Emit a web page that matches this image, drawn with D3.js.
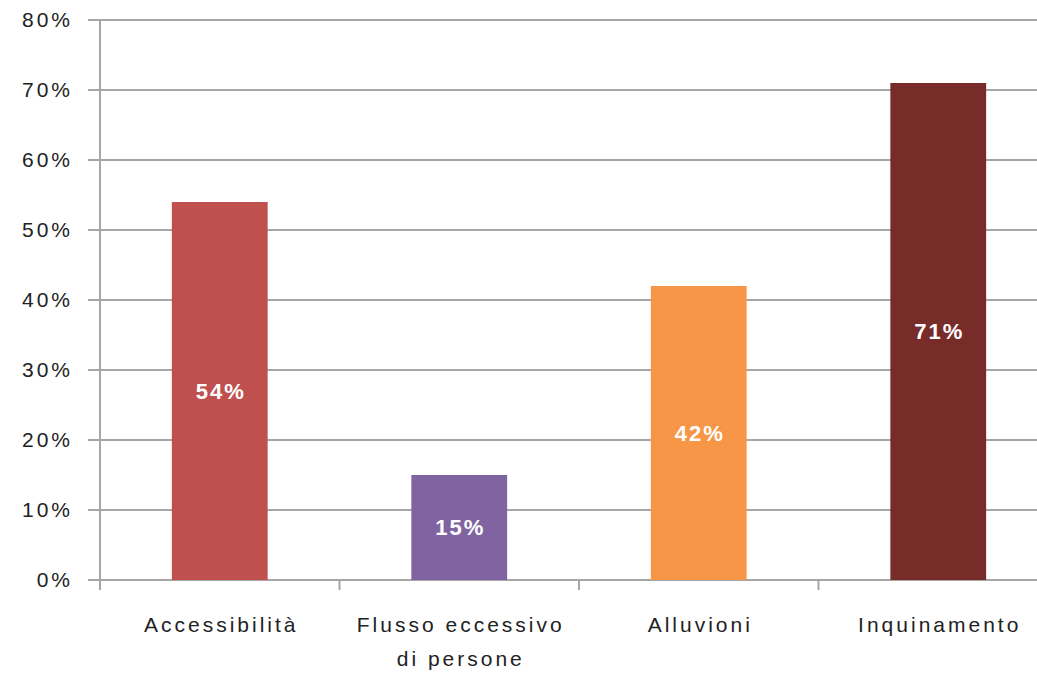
<!DOCTYPE html>
<html>
<head>
<meta charset="utf-8">
<script src="https://cdn.jsdelivr.net/npm/d3@7"></script>
<style>
  html, body { margin: 0; padding: 0; background: #fff; }
  svg { display: block; }
</style>
</head>
<body>
<svg id="chart" width="1037" height="673"></svg>
<script>
// Share of respondents citing each problem
const categories = ["Accessibilità", "Flusso eccessivo di persone", "Alluvioni", "Inquinamento"];
const labelLines = [["Accessibilità"], ["Flusso eccessivo", "di persone"], ["Alluvioni"], ["Inquinamento"]];
const values = [54, 15, 42, 71];
const colors = ["#C0504D", "#8064A2", "#F79646", "#772C2A"];
const yTicks = [0, 10, 20, 30, 40, 50, 60, 70, 80];

(function () {
  const svg = d3.select("#chart");
  const plotLeft = 100, plotTop = 20, plotBottom = 580;
  const bandStep = 239.5;
  const plotRight = plotLeft + bandStep * categories.length;

  const x = d3.scaleBand().domain(categories).range([plotLeft, plotRight])
    .paddingInner(0.6).paddingOuter(0.3);
  const y = d3.scaleLinear().domain([0, 80]).range([plotBottom, plotTop]);

  const gridColor = "#A6A6A6";
  const font = "'Liberation Sans', Arial, sans-serif";

  // horizontal gridlines with short left ticks
  svg.append("g").selectAll("line").data(yTicks).join("line")
    .attr("x1", plotLeft - 12).attr("x2", plotRight)
    .attr("y1", d => y(d)).attr("y2", d => y(d))
    .attr("stroke", gridColor).attr("stroke-width", 2);

  // y-axis tick labels
  svg.append("g").selectAll("text").data(yTicks).join("text")
    .attr("x", 73).attr("y", d => y(d))
    .attr("dy", "0.35em")
    .attr("text-anchor", "end")
    .attr("font-family", font).attr("font-size", 21)
    .attr("letter-spacing", 3)
    .attr("fill", "#222")
    .text(d => d + "%");

  // vertical axis line
  svg.append("line")
    .attr("x1", plotLeft).attr("x2", plotLeft)
    .attr("y1", plotTop).attr("y2", plotBottom + 10)
    .attr("stroke", gridColor).attr("stroke-width", 2);

  // category separator ticks below the baseline
  const sepTicks = d3.range(1, categories.length + 1).map(i => plotLeft + i * x.step());
  svg.append("g").selectAll("line").data(sepTicks).join("line")
    .attr("x1", d => d).attr("x2", d => d)
    .attr("y1", plotBottom).attr("y2", plotBottom + 10)
    .attr("stroke", gridColor).attr("stroke-width", 2);

  // bars
  svg.append("g").selectAll("rect").data(categories).join("rect")
    .attr("x", d => x(d))
    .attr("y", (d, i) => y(values[i]))
    .attr("width", x.bandwidth())
    .attr("height", (d, i) => plotBottom - y(values[i]))
    .attr("fill", (d, i) => colors[i]);

  // value labels centred in each bar
  svg.append("g").selectAll("text").data(categories).join("text")
    .attr("x", d => x(d) + x.bandwidth() / 2 + 1)
    .attr("y", (d, i) => (y(values[i]) + plotBottom) / 2)
    .attr("dy", "0.35em")
    .attr("text-anchor", "middle")
    .attr("font-family", font).attr("font-size", 22).attr("font-weight", "bold")
    .attr("letter-spacing", 2)
    .attr("fill", "#fff")
    .text((d, i) => values[i] + "%");

  // category labels
  const catText = svg.append("g").selectAll("text").data(categories).join("text")
    .attr("x", d => x(d) + x.bandwidth() / 2)
    .attr("y", 632)
    .attr("text-anchor", "middle")
    .attr("font-family", font).attr("font-size", 21)
    .attr("letter-spacing", 3)
    .attr("fill", "#222");
  catText.each(function (d, i) {
    const t = d3.select(this);
    labelLines[i].forEach((line, j) => {
      t.append("tspan")
        .attr("x", x(d) + x.bandwidth() / 2 + 1.5)
        .attr("dy", j === 0 ? 0 : 34)
        .text(line);
    });
  });
})();
</script>
</body>
</html>
